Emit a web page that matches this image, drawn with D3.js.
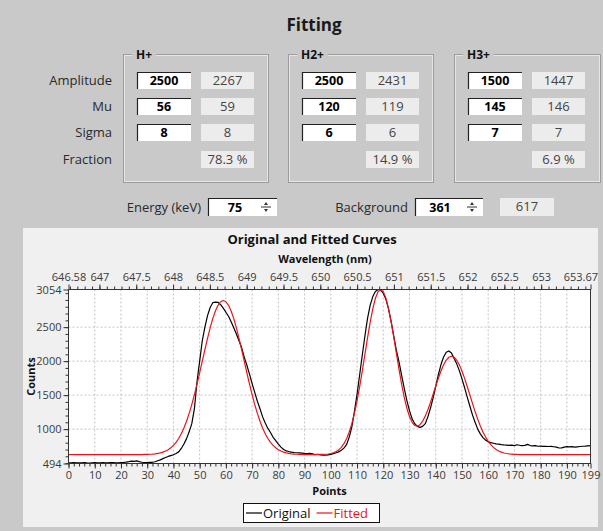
<!DOCTYPE html>
<html>
<head>
<meta charset="utf-8">
<script src="https://cdn.jsdelivr.net/npm/d3@7"></script>
<style>
  body { margin: 0; background: #c9c9c9; }
  svg { display: block; font-family: "Open Sans", "Noto Sans", sans-serif; }
</style>
</head>
<body>
<svg width="603" height="531"></svg>
<script>
var svg = d3.select("svg"),
    width = +svg.attr("width"),
    height = +svg.attr("height");

// fit parameters shown in the form
var species = ["H+", "H2+", "H3+"];
var amplitudeIn = [2500, 2500, 1500];
var amplitudeFit = [2267, 2431, 1447];
var muIn = [56, 120, 145];
var muFit = [59, 119, 146];
var sigmaIn = [8, 6, 7];
var sigmaFit = [8, 6, 7];
var fractions = ["78.3 %", "14.9 %", "6.9 %"];
var energy = 75, background = 361, backgroundFit = 617;

// curve values, one per point (0..199)
var original = [
  505,503,506,504,502,505,507,503,501,504,
  506,503,505,508,504,502,506,509,505,503,
  507,510,515,522,530,526,533,521,512,508,
  506,510,512,520,535,548,565,582,598,610,
  622,640,665,715,780,860,960,1080,1300,1700,
  2000,2300,2500,2670,2790,2860,2868,2866,2830,2780,
  2720,2660,2580,2490,2400,2300,2200,2060,1940,1810,
  1670,1540,1410,1300,1180,1090,1010,950,880,830,
  780,735,700,680,670,662,655,652,650,647,
  643,640,642,636,625,630,622,618,615,622,
  628,640,652,665,690,720,770,880,1030,1260,
  1510,1800,2090,2370,2630,2820,2950,3025,3054,3045,
  3000,2910,2770,2580,2370,2160,1990,1790,1600,1420,
  1270,1150,1080,1040,1025,1040,1080,1180,1310,1460,
  1630,1800,1950,2060,2130,2150,2120,2040,1960,1860,
  1740,1610,1470,1340,1210,1100,1000,930,875,838,
  815,800,792,782,778,772,768,765,760,763,
  758,770,762,757,760,775,758,754,756,748,
  750,746,748,744,746,740,734,722,725,736,
  741,738,742,736,740,744,748,750,753,756
];
var fitted = [
  625,625,625,625,625,625,625,625,625,625,
  625,625,625,625,625,625,625,625,625,625,
  625,625,625,625,625,625,625,625,625,627,
  628,630,633,637,642,650,661,677,697,725,
  760,805,862,932,1016,1115,1231,1361,1506,1663,
  1829,2000,2171,2336,2490,2626,2738,2822,2874,2892,
  2874,2822,2738,2626,2490,2336,2171,2000,1829,1663,
  1506,1361,1231,1115,1016,932,862,805,760,725,
  697,677,661,650,642,637,633,630,628,627,
  626,625,625,625,625,625,627,628,630,634,
  641,652,669,694,732,785,857,954,1078,1231,
  1414,1624,1856,2099,2343,2571,2770,2925,3022,3050,
  3023,2927,2774,2578,2353,2115,1880,1660,1467,1307,
  1184,1100,1053,1043,1065,1115,1191,1285,1394,1512,
  1632,1749,1856,1946,2015,2057,2072,2057,2014,1945,
  1854,1746,1627,1503,1378,1258,1147,1046,958,883,
  821,771,731,701,678,661,649,641,635,632,
  629,627,626,625,625,625,625,625,625,625,
  625,625,625,625,625,625,625,625,625,625,
  625,625,625,625,625,625,625,625,625,625
];

var xTicks = [0,10,20,30,40,50,60,70,80,90,100,110,120,130,140,150,160,170,180,190,199];
var yTicks = [494, 1000, 1500, 2000, 2500, 3054];
var wlTicks = [646.58, 647, 647.5, 648, 648.5, 649, 649.5, 650, 650.5, 651, 651.5, 652, 652.5, 653, 653.67];
var seriesNames = ["Original", "Fitted"];
var seriesColors = ["#000000", "#e8141b"];

// ---------- window background ----------
svg.append("rect").attr("width", width).attr("height", height).attr("fill", "#c9c9c9");

svg.append("text")
  .attr("x", 314).attr("y", 31)
  .attr("text-anchor", "middle")
  .style("font-size", "17px").style("font-weight", "bold").style("fill", "#1a1a1a")
  .text("Fitting");

// ---------- group boxes ----------
var boxX = [123, 288, 454];
var rowTop = [72, 98, 124, 151];
var rowNames = ["Amplitude", "Mu", "Sigma", "Fraction"];

rowNames.forEach(function(n, i) {
  svg.append("text")
    .attr("x", 112).attr("y", rowTop[i] + 13)
    .attr("text-anchor", "end")
    .style("font-size", "13px").style("fill", "#2a2a2a")
    .text(n);
});

function inputBox(g, x, y, w, h, label) {
  g.append("rect").attr("x", x).attr("y", y).attr("width", w).attr("height", h)
    .attr("fill", "#fff");
  g.append("path").attr("d", "M" + (x + 0.5) + "," + (y + h) + "V" + (y + 0.5) + "H" + (x + w))
    .attr("fill", "none").attr("stroke", "#222").attr("stroke-width", 1.2);
  if (label != null)
    g.append("text").attr("x", x + w / 2).attr("y", y + 13)
      .attr("text-anchor", "middle")
      .style("font-size", "12.5px").style("font-weight", "bold").style("fill", "#000")
      .text(label);
}

function outputBox(g, x, y, w, h, label) {
  g.append("rect").attr("x", x).attr("y", y).attr("width", w).attr("height", h)
    .attr("fill", "#ececec");
  g.append("text").attr("x", x + w / 2).attr("y", y + 13)
    .attr("text-anchor", "middle")
    .style("font-size", "13px").style("fill", "#444")
    .text(label);
}

species.forEach(function(s, i) {
  var g = svg.append("g");
  var bx = boxX[i], bw = i == 2 ? 146 : 145;
  g.append("rect").attr("x", bx + 0.5).attr("y", 54.5).attr("width", bw).attr("height", 128)
    .attr("fill", "none").attr("stroke", "#9c9c9c");
  g.append("rect").attr("x", bx + 1.5).attr("y", 55.5).attr("width", bw - 2).attr("height", 126)
    .attr("fill", "none").attr("stroke", "#e6e6e6");
  var lbl = g.append("text").attr("x", bx + 13).attr("y", 58.5)
    .style("font-size", "12px").style("font-weight", "bold").style("fill", "#111")
    .text(s);
  var lw = lbl.node().getComputedTextLength();
  g.insert("rect", "text").attr("x", bx + 9).attr("y", 50).attr("width", lw + 8).attr("height", 8)
    .attr("fill", "#c9c9c9");

  inputBox(g, bx + 14, rowTop[0], 54, 17, amplitudeIn[i]);
  outputBox(g, bx + 78, rowTop[0], 53, 17, amplitudeFit[i]);
  inputBox(g, bx + 14, rowTop[1], 54, 17, muIn[i]);
  outputBox(g, bx + 78, rowTop[1], 53, 17, muFit[i]);
  inputBox(g, bx + 14, rowTop[2], 54, 17, sigmaIn[i]);
  outputBox(g, bx + 78, rowTop[2], 53, 17, sigmaFit[i]);
  outputBox(g, bx + 78, rowTop[3], 53, 17, fractions[i]);
});

// ---------- energy / background row ----------
function spinBox(x, y, w, value, textX) {
  var g = svg.append("g");
  inputBox(g, x, y, w, 18, null);
  g.append("text").attr("x", textX).attr("y", y + 14)
    .attr("text-anchor", "middle")
    .style("font-size", "12.5px").style("font-weight", "bold")
    .text(value);
  var sx = x + w - 11, sy = y + 9;
  g.append("line").attr("x1", sx - 5).attr("x2", sx + 5).attr("y1", sy).attr("y2", sy)
    .attr("stroke", "#333");
  g.append("path").attr("d", "M" + (sx - 2) + "," + (sy - 2) + "L" + sx + "," + (sy - 5) + "L" + (sx + 2) + "," + (sy - 2) + "Z")
    .attr("fill", "#333");
  g.append("path").attr("d", "M" + (sx - 2) + "," + (sy + 2) + "L" + sx + "," + (sy + 5) + "L" + (sx + 2) + "," + (sy + 2) + "Z")
    .attr("fill", "#333");
}

svg.append("text").attr("x", 201).attr("y", 212).attr("text-anchor", "end")
  .style("font-size", "13px").style("fill", "#2a2a2a").text("Energy (keV)");
spinBox(208, 198, 69, energy, 235);
svg.append("text").attr("x", 408).attr("y", 212).attr("text-anchor", "end")
  .style("font-size", "13px").style("fill", "#2a2a2a").text("Background");
spinBox(415, 198, 68, background, 440);
outputBox(svg, 500, 198, 54, 18, backgroundFit);

// ---------- chart panel ----------
svg.append("rect").attr("x", 23).attr("y", 228).attr("width", 575).attr("height", 299)
  .attr("fill", "#f0f0f0");

var x0 = 68.5, x1 = 590.5, yTop = 289.5, yBot = 463.5;

var x = d3.scaleLinear().domain([0, 199]).range([x0, x1]);
var y = d3.scaleLinear().domain([494, 3054]).range([yBot, yTop]);
var wl = d3.scaleLinear().domain([646.58, 653.67]).range([x0, x1]);

svg.append("rect").attr("x", x0).attr("y", yTop).attr("width", x1 - x0).attr("height", yBot - yTop)
  .attr("fill", "#fff");

// grid
var grid = svg.append("g").attr("stroke", "#c4c4c4").attr("stroke-dasharray", "2,2");
grid.selectAll(".gx").data(xTicks.slice(1, -1)).enter().append("line")
  .attr("x1", d => x(d)).attr("x2", d => x(d)).attr("y1", yTop).attr("y2", yBot);
grid.selectAll(".gy").data(yTicks.slice(1, -1)).enter().append("line")
  .attr("y1", d => y(d)).attr("y2", d => y(d)).attr("x1", x0).attr("x2", x1);

// axes
function styleAxis(g) {
  g.select(".domain").remove();
  g.selectAll("line").attr("stroke", "#333");
  g.selectAll("text").style("font-size", "11px").style("fill", "#3a3a3a")
    .style("font-family", "'Open Sans', 'Noto Sans', sans-serif");
}

svg.append("g").attr("transform", "translate(0," + yBot + ")")
  .call(d3.axisBottom(x).tickValues(d3.range(0, 199, 2)).tickSize(3).tickFormat(""))
  .call(styleAxis);
svg.append("g").attr("transform", "translate(0," + yBot + ")")
  .call(d3.axisBottom(x).tickValues(xTicks).tickSize(5).tickPadding(3))
  .call(styleAxis);

svg.append("g").attr("transform", "translate(" + x0 + ",0)")
  .call(d3.axisLeft(y).tickValues(d3.range(500, 3054, 100)).tickSize(3).tickFormat(""))
  .call(styleAxis);
svg.append("g").attr("transform", "translate(" + x0 + ",0)")
  .call(d3.axisLeft(y).tickValues(yTicks).tickSize(5).tickPadding(2).tickFormat(d3.format("d")))
  .call(styleAxis);

svg.append("g").attr("transform", "translate(0," + yTop + ")")
  .call(d3.axisTop(wl).tickValues(d3.range(6466, 6537).map(v => v / 10)).tickSize(3).tickFormat(""))
  .call(styleAxis);
var topAxis = svg.append("g").attr("transform", "translate(0," + yTop + ")")
  .call(d3.axisTop(wl).tickValues(wlTicks).tickSize(5).tickPadding(4).tickFormat(d => String(d)))
  .call(styleAxis);
// keep the last wavelength label inside the panel
topAxis.selectAll(".tick text").filter(d => d === wlTicks[wlTicks.length - 1])
  .attr("text-anchor", "end").attr("x", 7);

// curves
var line = d3.line().x((d, i) => x(i)).y(d => y(d));
[original, fitted].forEach(function(series, k) {
  svg.append("path").datum(series)
    .attr("fill", "none")
    .attr("stroke", seriesColors[k])
    .attr("stroke-width", 1.2)
    .attr("stroke-linejoin", "round")
    .attr("d", line);
});

// frame
svg.append("rect").attr("x", x0).attr("y", yTop).attr("width", x1 - x0).attr("height", yBot - yTop)
  .attr("fill", "none").attr("stroke", "#333");

// titles
svg.append("text").attr("x", 312).attr("y", 244).attr("text-anchor", "middle")
  .style("font-size", "13px").style("font-weight", "bold").style("fill", "#111")
  .text("Original and Fitted Curves");
svg.append("text").attr("x", 325).attr("y", 263).attr("text-anchor", "middle")
  .style("font-size", "11px").style("font-weight", "bold").style("fill", "#111")
  .text("Wavelength (nm)");
svg.append("text").attr("x", (x0 + x1) / 2).attr("y", 495).attr("text-anchor", "middle")
  .style("font-size", "11px").style("font-weight", "bold").style("fill", "#111")
  .text("Points");
svg.append("text").attr("transform", "translate(35," + ((yTop + yBot) / 2) + ") rotate(-90)")
  .attr("text-anchor", "middle")
  .style("font-size", "11px").style("font-weight", "bold").style("fill", "#111")
  .text("Counts");

// legend
var lg = svg.append("g").attr("transform", "translate(243,503)");
lg.append("rect").attr("x", 0.5).attr("y", 0.5).attr("width", 136).attr("height", 19)
  .attr("fill", "#fff").attr("stroke", "#111");
var lx = 3;
seriesNames.forEach(function(n, k) {
  lg.append("line").attr("x1", lx).attr("x2", lx + 16).attr("y1", 10).attr("y2", 10)
    .attr("stroke", seriesColors[k]).attr("stroke-width", 1.2);
  var t = lg.append("text").attr("x", lx + 17).attr("y", 15)
    .style("font-size", "13px").style("fill", k == 0 ? "#111" : seriesColors[k])
    .text(n);
  lx += 17 + t.node().getComputedTextLength() + 6;
});
</script>
</body>
</html>
